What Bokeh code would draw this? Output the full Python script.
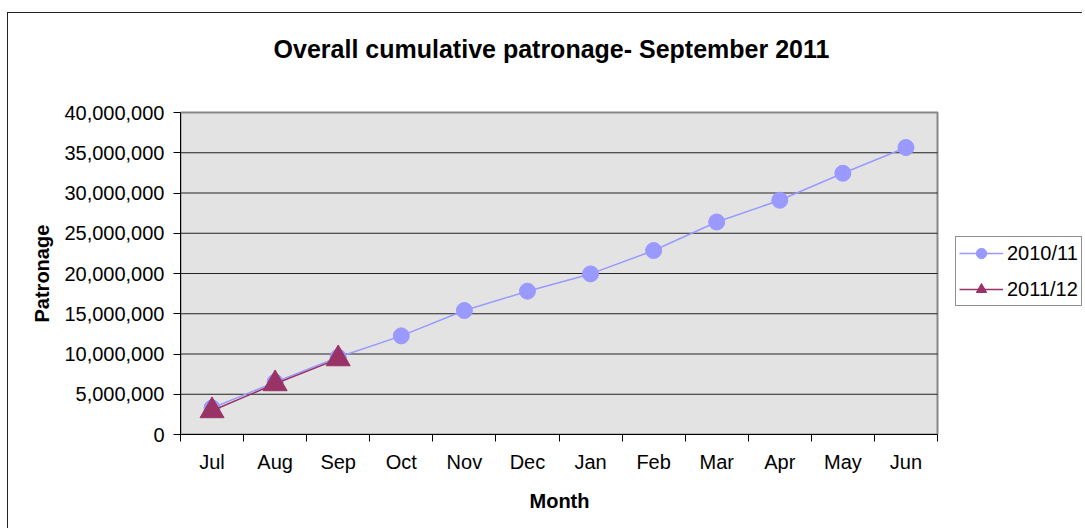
from bokeh.plotting import figure
from bokeh.models import Range1d, FixedTicker, NumeralTickFormatter, Legend, LegendItem, Label, Title
from bokeh.embed import file_html
from bokeh.resources import INLINE

months = ["Jul", "Aug", "Sep", "Oct", "Nov", "Dec", "Jan", "Feb", "Mar", "Apr", "May", "Jun"]
series_2010_11 = [3300000, 6500000, 9600000, 12250000, 15400000, 17800000, 19950000, 22850000, 26400000, 29100000, 32450000, 35650000]
series_2011_12 = [2950000, 6300000, 9400000]
y_ticks = [0, 5000000, 10000000, 15000000, 20000000, 25000000, 30000000, 35000000, 40000000]
title_text = "Overall cumulative patronage- September 2011"
x_title = "Month"
y_title = "Patronage"

FONT = "Liberation Sans"

n = len(months)
y_max = y_ticks[-1]
x_pos = [i + 0.5 for i in range(n)]

# layout in pixels: plot area 757 x 322, frame extended to right/top to hold title & legend
PA_W, PA_H = 757, 322
FR_W, FR_H = 902, 421

p = figure(frame_width=FR_W, frame_height=FR_H, output_backend="svg", toolbar_location=None,
           x_range=Range1d(0, n * FR_W / PA_W), y_range=Range1d(0, y_max * FR_H / PA_H),
           min_border_left=172, min_border_right=0, min_border_top=0, min_border_bottom=94,
           background_fill_color="white", border_fill_color="white")
p.styles = {"border-left": "1px solid #222222", "border-top": "1px solid #222222",
            "margin-top": "12px", "margin-left": "7px"}
p.outline_line_color = None
p.xgrid.visible = False
p.ygrid.visible = False

# plot area background
p.quad(left=0, right=n, bottom=0, top=y_max, fill_color="#e3e3e3",
       line_color="#888888", line_width=2)
# horizontal gridlines
gl = y_ticks[1:-1]
p.segment(x0=[0] * len(gl), x1=[n] * len(gl), y0=gl, y1=gl, line_color="#222222", line_width=1)

# x axis: labels at centres, tick marks between categories
xa = p.xaxis[0]
xa.bounds = (0, n)
xa.ticker = FixedTicker(ticks=x_pos, minor_ticks=list(range(n + 1)))
xa.major_label_overrides = {x: m for x, m in zip(x_pos, months)}
xa.major_tick_out = 0
xa.major_tick_in = 0
xa.minor_tick_out = 7
xa.minor_tick_in = 0
xa.minor_tick_line_color = "black"
xa.axis_line_color = "black"
xa.major_label_standoff = 9
xa.major_label_text_font = FONT
xa.major_label_text_font_size = "20px"
xa.major_label_text_color = "black"

ya = p.yaxis[0]
ya.bounds = (0, y_max)
ya.ticker = FixedTicker(ticks=y_ticks)
ya.formatter = NumeralTickFormatter(format="0,0")
ya.major_tick_out = 7
ya.major_tick_in = 0
ya.minor_tick_line_color = None
ya.axis_line_color = "black"
ya.major_tick_line_color = "black"
ya.major_label_standoff = 9
ya.major_label_text_font = FONT
ya.major_label_text_font_size = "20px"
ya.major_label_text_color = "black"

# axis titles, centred on the plot area (not on the extended frame)
p.add_layout(Title(text=x_title, align="left", offset=349, vertical_align="top", standoff=28,
                   text_font=FONT, text_font_size="20px", text_font_style="bold",
                   text_color="black"), "below")
p.add_layout(Title(text=y_title, align="left", offset=112, standoff=18,
                   text_font=FONT, text_font_size="20px", text_font_style="bold",
                   text_color="black"), "left")

c1 = "#9999ff"
c2 = "#993366"
l1 = p.line(x_pos, series_2010_11, line_color=c1, line_width=1.5)
s1 = p.scatter(x_pos, series_2010_11, marker="circle", size=16, fill_color=c1, line_color=c1)
m = len(series_2011_12)
l2 = p.line(x_pos[:m], series_2011_12, line_color=c2, line_width=1.5)
s2 = p.scatter(x_pos[:m], series_2011_12, marker="triangle", size=24, fill_color=c2, line_color=c2)

title = Label(x=371, y=386, x_units="screen", y_units="screen", text=title_text,
              text_font=FONT, text_font_size="25px", text_font_style="bold",
              text_color="black", text_align="center", text_baseline="middle")
p.add_layout(title)

legend = Legend(items=[LegendItem(label="2010/11", renderers=[l1, s1]),
                       LegendItem(label="2011/12", renderers=[l2, s2])],
                location=(775, 128), orientation="vertical",
                label_text_font=FONT, label_text_font_size="20px", label_text_color="black",
                glyph_width=44, glyph_height=26, label_standoff=4, spacing=10,
                padding=3, margin=0,
                border_line_color="#222222", border_line_width=1,
                background_fill_color="white", background_fill_alpha=1)
p.add_layout(legend, "center")

open("out.html", "w").write(file_html(p, INLINE))
